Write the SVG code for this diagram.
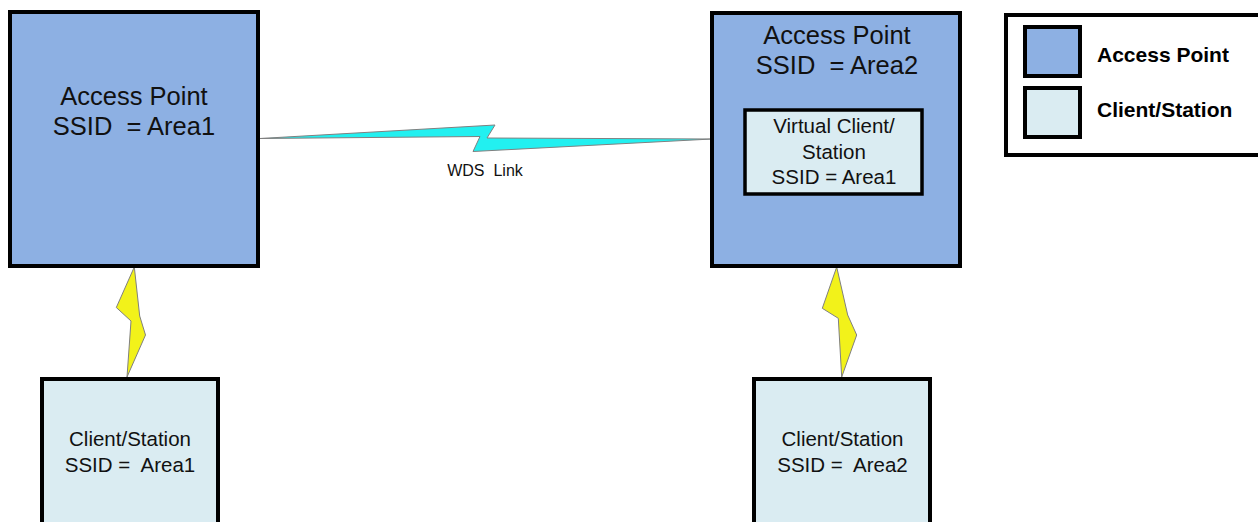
<svg xmlns="http://www.w3.org/2000/svg" width="1258" height="522" viewBox="0 0 1258 522" xml:space="preserve">
<style>
.ap{fill:#8DB0E3;stroke:#000;stroke-width:4}
.cl{fill:#DAECF2;stroke:#000;stroke-width:4}
.t{font-family:"Liberation Sans",Arial,sans-serif;fill:#111;text-anchor:middle;white-space:pre}
.big{font-size:25.5px}
.mid{font-size:20.5px}
.lg{font-family:"Liberation Sans",Arial,sans-serif;font-size:21px;font-weight:bold;fill:#000}
.bolt{stroke:#808080;stroke-width:1;stroke-linejoin:miter}
</style>
<rect width="1258" height="522" fill="#fff"/>
<g id="connectors">
<polygon class="bolt" fill="#22F0F0" points="260,138.5 495,125 487,138 712,139 473,151.5 480,136.5"/>
<polygon class="bolt" fill="#F2F21A" points="134.3,267 139.7,316 145.5,335 127,377 131,321 116.3,307.5"/>
<polygon class="bolt" fill="#F2F21A" points="836.7,267 847.7,315 856.7,335 841.7,377 838.3,318.3 822.3,308.3"/>
<text class="t" x="485" y="176" font-size="16">WDS  Link</text>
</g>
<g id="ap1">
<rect class="ap" x="10" y="12" width="248" height="254"/>
<text class="t big" x="134" y="105">Access Point</text>
<text class="t big" x="134" y="135">SSID  = Area1</text>
</g>
<g id="ap2">
<rect class="ap" x="712" y="13" width="248" height="253"/>
<text class="t big" x="837" y="44">Access Point</text>
<text class="t big" x="837" y="74">SSID  = Area2</text>
</g>
<g id="virtual-client">
<rect class="cl" x="745" y="110" width="177" height="84" style="stroke-width:3.5"/>
<text class="t mid" x="834" y="133">Virtual Client/</text>
<text class="t mid" x="834" y="158.5">Station</text>
<text class="t mid" x="834" y="184">SSID = Area1</text>
</g>
<g id="client1">
<rect class="cl" x="42" y="379" width="176" height="160"/>
<text class="t mid" x="130" y="446">Client/Station</text>
<text class="t mid" x="130" y="471.5">SSID =  Area1</text>
</g>
<g id="client2">
<rect class="cl" x="754" y="379" width="176" height="160"/>
<text class="t mid" x="842.5" y="446">Client/Station</text>
<text class="t mid" x="842.5" y="471.5">SSID =  Area2</text>
</g>
<g id="legend">
<rect x="1006" y="15" width="254" height="140" fill="#fff" stroke="#000" stroke-width="4"/>
<rect class="ap" x="1025" y="27" width="55" height="49"/>
<rect class="cl" x="1025" y="88" width="55" height="49"/>
<text class="lg" x="1097" y="61.5">Access Point</text>
<text class="lg" x="1097" y="117">Client/Station</text>
</g>
</svg>
